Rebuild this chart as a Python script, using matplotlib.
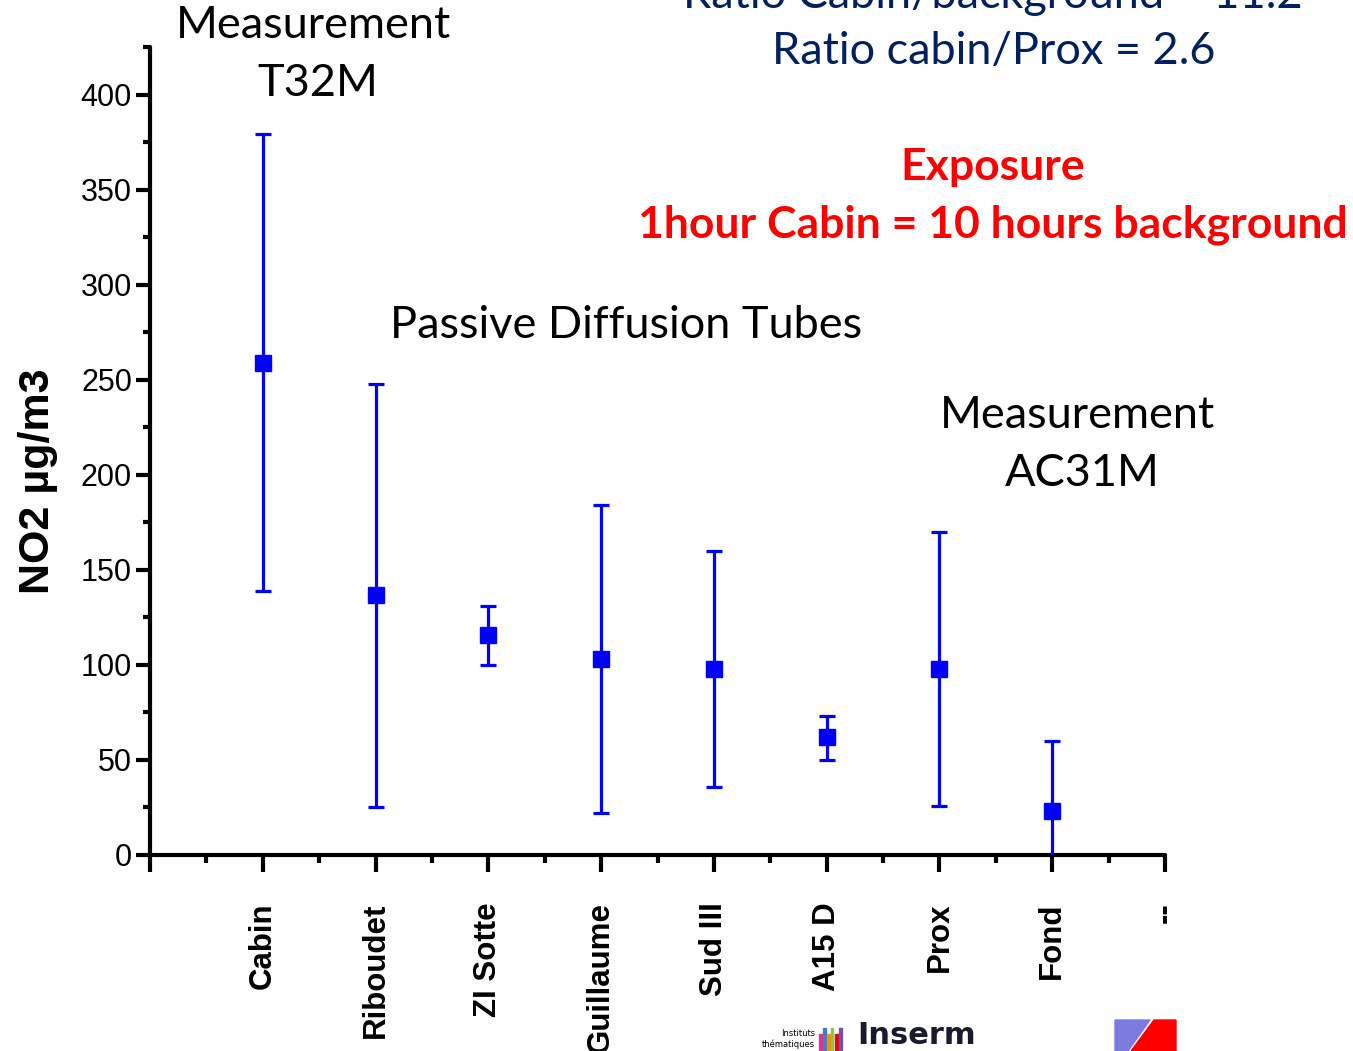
#!/usr/bin/env python3
"""
NO2 exposure: cabin vs passive diffusion tubes
"""

import numpy as np
import matplotlib
matplotlib.use('Agg')
import matplotlib.pyplot as plt
from matplotlib.ticker import MultipleLocator
from matplotlib.patches import Rectangle, Polygon

# data
sites = ['', 'Cabin', 'Riboudet', 'ZI Sotte', 'Guillaume', 'Sud III', 'A15 D', 'Prox', 'Fond', '--']
no2_mean = [259, 136.5, 115.5, 103, 98, 62, 98, 23]
no2_upper = [379, 248, 131, 184, 160, 73, 170, 60]
no2_lower = [139, 25, 100, 22, 36, 50, 26, -14]

BLUE = '#0000FF'
NAVY = '#002060'
RED = '#FF0000'

fig = plt.figure(figsize=(13.53, 10.51), dpi=100)
ax = fig.add_axes([150 / 1353, 1 - 855 / 1051, 1015 / 1353, 808 / 1051])

x = np.arange(1, len(no2_mean) + 1)
mean = np.array(no2_mean)
yerr = [mean - np.array(no2_lower), np.array(no2_upper) - mean]
ax.errorbar(x, mean, yerr=yerr, fmt='s', color=BLUE, ecolor=BLUE,
            markersize=11, elinewidth=2.3, capsize=6, capthick=2.3, zorder=3)

ax.set_xlim(0, 9)
ax.set_ylim(0, 425)

# axes styling
for side in ['top', 'right']:
    ax.spines[side].set_visible(False)
for side in ['left', 'bottom']:
    ax.spines[side].set_linewidth(3)
    ax.spines[side].set_capstyle('round')

ax.set_xticks(range(len(sites)))
ax.set_xticklabels(sites, rotation=90, fontsize=22.5, fontweight='bold',
                   family='Liberation Sans')
ax.xaxis.set_minor_locator(MultipleLocator(0.5))
ax.yaxis.set_major_locator(MultipleLocator(50))
ax.yaxis.set_minor_locator(MultipleLocator(25))
ax.tick_params(axis='x', which='major', length=12, width=3, direction='out', pad=22)
ax.tick_params(axis='x', which='minor', length=6, width=3, direction='out')
ax.tick_params(axis='y', which='major', length=10, width=3, direction='out',
               labelsize=22, pad=3)
ax.tick_params(axis='y', which='minor', length=5, width=3, direction='out')
for lbl in ax.get_yticklabels():
    lbl.set_family('Liberation Sans')

ax.set_ylabel('NO2 µg/m3', fontsize=31, fontweight='bold', family='Liberation Sans')
ax.yaxis.set_label_coords(-0.091, 0.462)

# annotations
note = dict(family='Lato', fontsize=32.5, ha='center', va='center', clip_on=False)
fig.text(313 / 1353, 1 - 25 / 1051, 'Measurement', color='black', **note)
fig.text(318 / 1353, 1 - 83 / 1051, 'T32M', color='black', **note)
fig.text(626 / 1353, 1 - 326 / 1051, 'Passive Diffusion Tubes', color='black', **note)
fig.text(1078 / 1353, 1 - 415 / 1051, 'Measurement', color='black', **note)
fig.text(1082 / 1353, 1 - 473 / 1051, 'AC31M', color='black', **note)
fig.text(993 / 1353, 1 - (-4) / 1051, 'Ratio Cabin/background = 11.2', color=NAVY, **note)
fig.text(994 / 1353, 1 - 52 / 1051, 'Ratio cabin/Prox = 2.6', color=NAVY, **note)

bold_note = dict(family='Lato', fontsize=32, fontweight='bold', ha='center',
                 va='center', color=RED)
fig.text(993 / 1353, 1 - 167 / 1051, 'Exposure', **bold_note)
fig.text(993 / 1353, 1 - 225 / 1051, '1hour Cabin = 10 hours background', **bold_note)

# logos at the bottom
fig.text(815 / 1353, 1 - 1034 / 1051, 'Instituts', fontsize=6, ha='right', va='center',
         family='Liberation Sans Narrow')
fig.text(815 / 1353, 1 - 1044 / 1051, 'thématiques', fontsize=6, ha='right', va='center',
         family='Liberation Sans Narrow')
bar_cols = ['#E8308A', '#3A7FD0', '#F39200', '#8DC63F', '#E30613', '#7B4FA0']
for i, c in enumerate(bar_cols):
    h = 22 if i % 2 else 16
    fig.patches.append(Rectangle(((819 + i * 4) / 1353, (1051 - 1050) / 1051),
                                 2.5 / 1353, h / 1051, transform=fig.transFigure,
                                 color=c))
fig.text(857 / 1353, 1 / 1051, 'Inserm', fontsize=22, fontweight='bold',
         ha='left', va='bottom', color='#1A1A2E', family='Liberation Sans Narrow')
fig.patches.append(Polygon([(1115 / 1353, 0), (1115 / 1353, 31 / 1051),
                            (1150 / 1353, 31 / 1051), (1128 / 1353, 0)],
                           closed=True, transform=fig.transFigure, color='#7B7BE0'))
fig.patches.append(Polygon([(1131 / 1353, 0), (1154 / 1353, 31 / 1051),
                            (1176 / 1353, 31 / 1051), (1176 / 1353, 0)],
                           closed=True, transform=fig.transFigure, color=RED))

fig.savefig('out.png', dpi=100)
